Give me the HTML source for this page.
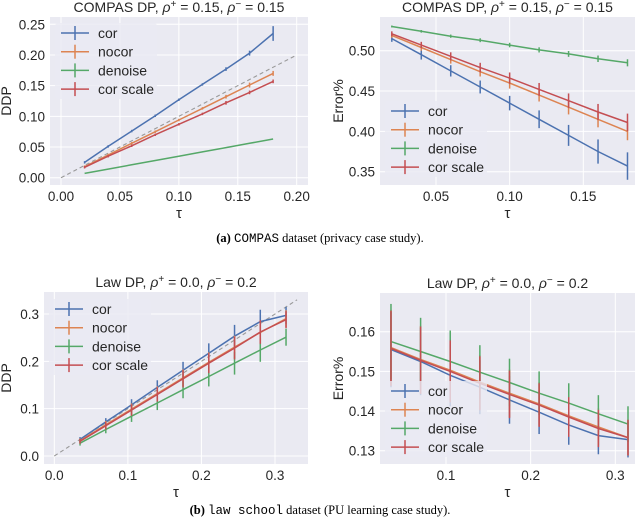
<!DOCTYPE html>
<html><head><meta charset="utf-8"><style>
body{margin:0;background:#fff;width:640px;height:529px;overflow:hidden;font-family:"Liberation Sans",sans-serif}
svg{display:block}
.cap{font-family:"Liberation Serif",serif;font-size:12.5px}
.mono{font-family:"Liberation Mono",monospace}
</style></head><body>
<svg id="fig" width="640" height="529" viewBox="0 0 640 529" xmlns="http://www.w3.org/2000/svg">
<text class="cap" x="320" y="242" text-anchor="middle"><tspan font-weight="bold">(a)</tspan> <tspan class="mono">COMPAS</tspan> dataset (privacy case study).</text>
<text class="cap" x="320" y="514" text-anchor="middle"><tspan font-weight="bold">(b)</tspan> <tspan class="mono">law school</tspan> dataset (PU learning case study).</text>
</svg>
<script>
const seriesNames = ["cor","nocor","denoise","cor scale"];
const colors = ["#4c72b0","#dd8452","#55a868","#c44e52"];
// Panel A: COMPAS DDP
const tauA = [0.02,0.04,0.06,0.08,0.10,0.12,0.14,0.16,0.18];
const a_cor = [0.025,0.051,0.076,0.101,0.127,0.152,0.177,0.203,0.235];
const a_nocor = [0.018,0.037,0.056,0.075,0.094,0.113,0.132,0.151,0.170];
const a_denoise = [0.007,0.014,0.021,0.028,0.035,0.042,0.049,0.056,0.063];
const a_corscale = [0.017,0.035,0.052,0.070,0.087,0.104,0.122,0.139,0.157];
const a_err = [0.002,0.002,0.002,0.002,0.002,0.002,0.003,0.004,0.012];
const a_xticks = [0,0.05,0.10,0.15,0.20];
const a_yticks = [0,0.05,0.10,0.15,0.20,0.25];
// Panel B: COMPAS Error
const b_cor = [0.515,0.495,0.475,0.455,0.435,0.415,0.395,0.375,0.357];
const b_nocor = [0.519,0.504,0.489,0.474,0.460,0.445,0.430,0.415,0.400];
const b_denoise = [0.530,0.524,0.518,0.513,0.507,0.501,0.496,0.490,0.485];
const b_corscale = [0.521,0.507,0.493,0.479,0.466,0.452,0.438,0.424,0.411];
const b_err_cor = [0.004,0.006,0.007,0.008,0.009,0.011,0.013,0.015,0.017];
const b_err_other = [0.003,0.004,0.005,0.006,0.007,0.008,0.009,0.010,0.011];
const b_xticks = [0.05,0.10,0.15];
const b_yticks = [0.35,0.40,0.45,0.50];
// Panel C: Law DDP
const tauC = [0.035,0.07,0.105,0.14,0.175,0.21,0.245,0.28,0.315];
const c_cor = [0.035,0.072,0.108,0.145,0.181,0.217,0.253,0.284,0.297];
const c_nocor = [0.032,0.066,0.099,0.132,0.165,0.198,0.230,0.261,0.290];
const c_denoise = [0.027,0.056,0.084,0.112,0.140,0.168,0.196,0.224,0.251];
const c_corscale = [0.031,0.064,0.097,0.130,0.163,0.196,0.228,0.262,0.288];
const c_err = [0.005,0.008,0.012,0.015,0.018,0.021,0.024,0.025,0.018];
const c_xticks = [0.0,0.1,0.2,0.3];
const c_yticks = [0.0,0.1,0.2,0.3];
// Panel D: Law Error
const d_cor = [0.1555,0.1525,0.149,0.146,0.1428,0.1397,0.1365,0.1338,0.1328];
const d_nocor = [0.156,0.153,0.1503,0.1473,0.1445,0.1418,0.1388,0.136,0.1333];
const d_denoise = [0.1575,0.155,0.1525,0.1498,0.1472,0.1445,0.142,0.1393,0.1367];
const d_corscale = [0.1558,0.1528,0.150,0.147,0.1442,0.1415,0.1385,0.1356,0.1333];
const d_err = [0.0095,0.0085,0.0078,0.0068,0.006,0.0055,0.005,0.0047,0.0045];
const d_xticks = [0.1,0.2,0.3];
const d_yticks = [0.13,0.14,0.15,0.16];

const NS="http://www.w3.org/2000/svg";
const svg=document.getElementById('fig');
function mk(tag,attrs,parent){const e=document.createElementNS(NS,tag);for(const k in attrs)e.setAttribute(k,attrs[k]);(parent||svg).appendChild(e);return e;}

function panel(p){
  const g=mk('g',{});
  
  
  const X=v=>p.px0+(v-p.x0)*(p.px1-p.px0)/(p.x1-p.x0);
  const Y=v=>p.py0+(v-p.y0)*(p.py1-p.py0)/(p.y1-p.y0);
  const bg=mk('rect',{x:p.L,y:p.T,width:p.R-p.L,height:p.B-p.T,fill:'#eaeaf2'},g);
  
  
  p.xt.forEach(t=>{const x=X(t);mk('line',{x1:x,x2:x,y1:p.T,y2:p.B,stroke:'#fff','stroke-width':1},g);
    const tx=mk('text',{x:x,y:p.B+16,'text-anchor':'middle','font-size':13.5,fill:'#262626'},g);tx.textContent=t.toFixed(p.xd);
    
    });
  p.yt.forEach(t=>{const y=Y(t);mk('line',{x1:p.L,x2:p.R,y1:y,y2:y,stroke:'#fff','stroke-width':1},g);
    const tx=mk('text',{x:p.L-5,y:y+5,'text-anchor':'end','font-size':13.5,fill:'#262626'},g);tx.textContent=t.toFixed(p.yd);
    
    });
  if(p.diag){const d=mk('line',{x1:X(0),y1:Y(0),x2:X(p.diag),y2:Y(p.diag),stroke:'#999','stroke-width':1.1,'stroke-dasharray':'4,3'},g);
    
    }
  p.series.forEach((s,i)=>{
    const sg=mk('g',{},g);
    
    
    const pts=p.tau.map((t,j)=>X(t).toFixed(1)+','+Y(s[j]).toFixed(1)).join(' ');
    mk('polyline',{points:pts,fill:'none',stroke:colors[i],'stroke-width':1.5},sg);
    const e=p.err[i];
    p.tau.forEach((t,j)=>{const x=X(t);mk('line',{x1:x,x2:x,y1:Y(s[j]-e[j]),y2:Y(s[j]+e[j]),stroke:colors[i],'stroke-width':1.5},sg);});
  });
  const lg=mk('g',{},g);
  
  
  mk('rect',{x:p.lx-6,y:p.ly-10,width:102,height:76,fill:'#eaeaf2','fill-opacity':0.8,rx:3},lg);
  seriesNames.forEach((n,i)=>{const y=p.ly+i*18.7;
    const eg=mk('g',{},lg);
    
    
    mk('line',{x1:p.lx,x2:p.lx+28,y1:y,y2:y,stroke:colors[i],'stroke-width':1.5},eg);
    mk('line',{x1:p.lx+14,x2:p.lx+14,y1:y-7,y2:y+7,stroke:colors[i],'stroke-width':1.5},eg);
    const t=mk('text',{x:p.lx+37,y:y+5,'font-size':14,fill:'#262626'},eg);t.textContent=n;});
  const ti=mk('text',{x:(p.L+p.R)/2,y:p.T-5,'text-anchor':'middle','font-size':14,fill:'#262626'},g);
  
  
  ti.innerHTML=p.title;
  const xl=mk('text',{x:(p.L+p.R)/2,y:p.B+33,'text-anchor':'middle','font-size':15,fill:'#262626'},g);xl.textContent='τ';
  
  
  const yx=p.ylx, yy=(p.T+p.B)/2;
  const yl=mk('text',{x:yx,y:yy,'text-anchor':'middle','font-size':14,fill:'#262626',transform:`rotate(-90 ${yx} ${yy})`},g);yl.textContent=p.ylab;
  
  
}
const t1='COMPAS DP, <tspan font-style="italic">ρ</tspan><tspan dy="-5" font-size="10">+</tspan><tspan dy="5"> = 0.15, </tspan><tspan font-style="italic">ρ</tspan><tspan dy="-5" font-size="10">−</tspan><tspan dy="5"> = 0.15</tspan>';
const t2='Law DP, <tspan font-style="italic">ρ</tspan><tspan dy="-5" font-size="10">+</tspan><tspan dy="5"> = 0.0, </tspan><tspan font-style="italic">ρ</tspan><tspan dy="-5" font-size="10">−</tspan><tspan dy="5"> = 0.2</tspan>';
panel({name:'chart-compas-ddp',L:50,R:308,T:17,B:185,x0:0,x1:0.2,px0:61,px1:296.7,y0:0,y1:0.25,py0:177.7,py1:24.3,
  xt:a_xticks,yt:a_yticks,xd:2,yd:2,tau:tauA,series:[a_cor,a_nocor,a_denoise,a_corscale],err:[a_err,a_err.map(v=>Math.min(v,0.004)),[0,0,0,0,0,0,0,0,0],a_err.map(v=>Math.min(v,0.003))],
  diag:0.2,lx:61,ly:33,title:t1,ylab:'DDP',ylx:11});
panel({name:'chart-compas-error',L:380,R:635,T:17,B:185,x0:0.05,x1:0.15,px0:436,px1:583.3,y0:0.35,y1:0.50,py0:171.7,py1:50.7,
  xt:b_xticks,yt:b_yticks,xd:2,yd:2,tau:tauA,series:[b_cor,b_nocor,b_denoise,b_corscale],err:[b_err_cor,b_err_other,b_err_other.map(v=>v*0.4),b_err_other],
  lx:391,ly:111,title:t1,ylab:'Error%',ylx:343});
panel({name:'chart-law-ddp',L:44,R:308,T:292,B:464,x0:0,x1:0.3,px0:54.3,px1:275,y0:0,y1:0.3,py0:456,py1:314,
  xt:c_xticks,yt:c_yticks,xd:1,yd:1,tau:tauC,series:[c_cor,c_nocor,c_denoise,c_corscale],err:[c_err,c_err,c_err,c_err],
  diag:0.33,lx:55,ly:309,title:t2,ylab:'DDP',ylx:11});
panel({name:'chart-law-error',L:380,R:635,T:293,B:464,x0:0.1,x1:0.3,px0:446,px1:615.3,y0:0.13,y1:0.16,py0:450.7,py1:331.7,
  xt:d_xticks,yt:d_yticks,xd:1,yd:2,tau:tauC,series:[d_cor,d_nocor,d_denoise,d_corscale],err:[d_err,d_err,d_err,d_err],
  lx:391,ly:391,title:t2,ylab:'Error%',ylx:343});
</script>
</body></html>
